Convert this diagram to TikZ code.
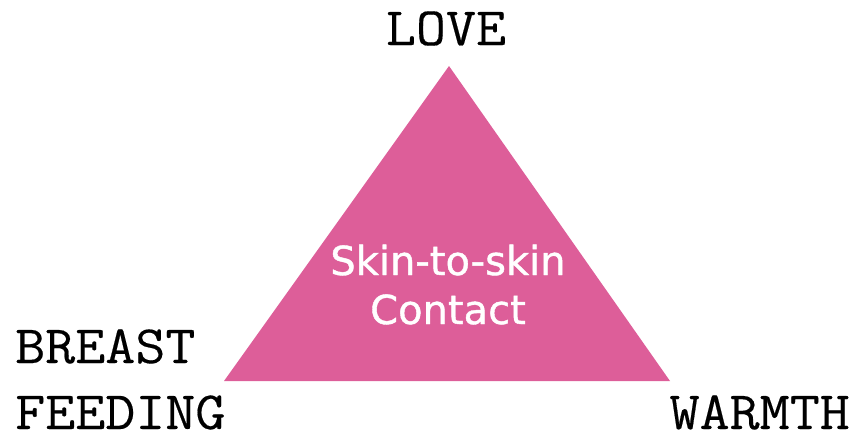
\documentclass[tikz,border=0pt]{standalone}
\usepackage{fontspec}
\newfontfamily\contactfont[FakeBold=1]{DejaVu Sans}
\newfontfamily\maquina[FakeStretch=1.08, FakeBold=0.3]{Latin Modern Mono}
\definecolor{rosa}{RGB}{221,94,153}

\begin{document}
\begin{tikzpicture}[x=1pt, y=-1pt]

  % ── Estilos ────────────────────────
  \tikzset{
    rotulo/.style  = {font=\fontsize{54}{66}\selectfont\maquina, inner sep=0pt},
    triangulo/.style = {fill=rosa, draw=none},
    centro/.style  = {font=\fontsize{40}{49}\selectfont\contactfont, text=white, align=center, inner sep=0pt}
  }

  % moldura da figura
  \useasboundingbox (0,0) rectangle (855,437);

  % =========================================================
  % TRIANGULO
  % =========================================================
  \coordinate (topo) at (449,66);
  \coordinate (esq)  at (224,381);
  \coordinate (dir)  at (670,381);
  \fill[triangulo] (topo) -- (esq) -- (dir) -- cycle;

  % texto central (base = ultima linha)
  \node[centro, anchor=base] (pele) at (448,324) {Skin-to-skin\\Contact};

  % =========================================================
  % ROTULOS DOS VERTICES
  % =========================================================
  \node[rotulo, anchor=base] (amor) at (446,45) {LOVE};
  \node[rotulo, anchor=base west, align=left] (mama) at (15,429) {BREAST\\FEEDING};
  \node[rotulo, anchor=base east] (calor) at (850,429) {WARMTH};

\end{tikzpicture}
\end{document}
